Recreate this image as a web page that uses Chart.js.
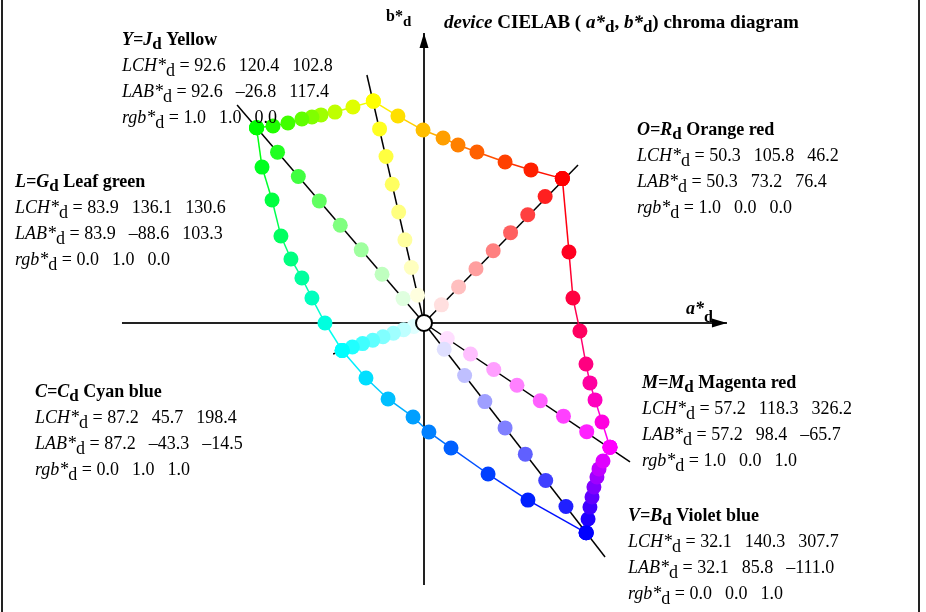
<!DOCTYPE html>
<html>
<head>
<meta charset="utf-8">
<script src="https://cdn.jsdelivr.net/npm/chart.js@4"></script>
<style>
  html, body { margin: 0; padding: 0; background: #fff; }
</style>
</head>
<body>
<canvas id="cchart" width="926" height="612"></canvas>
<script>
// hue order: O, Y, L, C, V, M
const hueCodes = [['O', 'R'], ['Y', 'J'], ['L', 'G'], ['C', 'C'], ['V', 'B'], ['M', 'M']];
const hueNames = ['Orange red', 'Yellow', 'Leaf green', 'Cyan blue', 'Violet blue', 'Magenta red'];
const lchValues = [[50.3, 105.8, 46.2], [92.6, 120.4, 102.8], [83.9, 136.1, 130.6], [87.2, 45.7, 198.4], [32.1, 140.3, 307.7], [57.2, 118.3, 326.2]];
const labValues = [[50.3, 73.2, 76.4], [92.6, -26.8, 117.4], [83.9, -88.6, 103.3], [87.2, -43.3, -14.5], [32.1, 85.8, -111.0], [57.2, 98.4, -65.7]];
const rgbValues = [[1, 0, 0], [1, 1, 0], [0, 1, 0], [0, 1, 1], [0, 0, 1], [1, 0, 1]];

// white -> primary steps along each grey ray (a*, b*)
const rayA = [
  [9.2, 18.3, 27.5, 36.6, 45.8, 54.9, 64.1, 73.2],
  [-3.4, -6.7, -10.1, -13.4, -16.8, -20.1, -23.5, -26.8],
  [-11.1, -22.2, -33.2, -44.3, -55.4, -66.5, -77.5, -88.6],
  [-5.4, -10.8, -16.2, -21.7, -27.1, -32.5, -37.9, -43.3],
  [10.7, 21.5, 32.2, 42.9, 53.6, 64.4, 75.1, 85.8],
  [12.3, 24.6, 36.9, 49.2, 61.5, 73.8, 86.1, 98.4]
];
const rayB = [
  [9.6, 19.1, 28.7, 38.2, 47.8, 57.3, 66.9, 76.4],
  [14.7, 29.4, 44.0, 58.7, 73.4, 88.1, 102.7, 117.4],
  [12.9, 25.8, 38.7, 51.7, 64.6, 77.5, 90.4, 103.3],
  [-1.8, -3.6, -5.4, -7.3, -9.1, -10.9, -12.7, -14.5],
  [-13.9, -27.8, -41.6, -55.5, -69.4, -83.3, -97.1, -111.0],
  [-8.2, -16.4, -24.6, -32.9, -41.1, -49.3, -57.5, -65.7]
];
const rayEndA = [81.5, -30.2, -98.9, -48.1, 95.8, 109.0];
const rayEndB = [83.6, 131.2, 115.3, -16.4, -123.8, -73.5];

// inner steps on the hue circle edges O-Y, Y-L, L-C, C-V, V-M, M-O
const edgeA = [
  [56.6, 42.9, 28.0, 18.0, 10.1, -0.5, -13.8],
  [-37.6, -47.1, -54.5, -59.3, -64.6, -72.0, -79.9],
  [-85.7, -80.4, -75.7, -70.4, -64.6, -59.3, -52.4],
  [-30.7, -19.0, -5.8, 2.6, 14.3, 33.9, 55.0],
  [86.8, 87.8, 88.9, 89.9, 91.5, 92.6, 94.7],
  [94.2, 90.5, 87.8, 85.7, 82.5, 78.8, 76.7]
];
const edgeB = [
  [81.0, 85.2, 90.5, 94.2, 97.9, 102.1, 109.5],
  [114.3, 111.6, 110.1, 109.0, 107.9, 105.8, 104.2],
  [82.5, 65.1, 46.0, 33.9, 23.8, 13.2, 0.0],
  [-29.1, -40.2, -49.7, -57.7, -66.1, -79.9, -93.7],
  [-103.7, -97.4, -92.1, -86.8, -81.5, -77.2, -73.0],
  [-52.4, -40.7, -31.7, -21.7, -4.2, 13.2, 37.6]
];

const axisX = [-159.8, 160.3];
const axisY = [-138.6, 153.4];

const SERIF = '"Liberation Serif", "Times New Roman", serif';

function rgbCss(c) {
  return 'rgb(' + c.map(v => Math.round(v * 255)).join(',') + ')';
}

function mix(c0, c1, t) {
  return c0.map((v, i) => v + (c1[i] - v) * t);
}

function fmt(v) {
  return v.toFixed(1).replace('-', '\u2013');
}

let datasets = [];

// axes
datasets.push({
  data: [{ x: axisX[0], y: 0 }, { x: axisX[1], y: 0 }],
  showLine: true, borderColor: '#222', borderWidth: 2, pointRadius: 0, order: 20
});
datasets.push({
  data: [{ x: 0, y: axisY[0] }, { x: 0, y: axisY[1] }],
  showLine: true, borderColor: '#222', borderWidth: 2, pointRadius: 0, order: 20
});

// black rays from the white point
for (let h = 0; h < 6; h++) {
  datasets.push({
    data: [{ x: 0, y: 0 }, { x: rayEndA[h], y: rayEndB[h] }],
    showLine: true, borderColor: '#000', borderWidth: 1.5, pointRadius: 0, order: 15
  });
}

// edge lines between neighbouring primaries
for (let h = 0; h < 6; h++) {
  let n = (h + 1) % 6;
  let pts = [{ x: labValues[h][1], y: labValues[h][2] }];
  for (let k = 0; k < edgeA[h].length; k++) pts.push({ x: edgeA[h][k], y: edgeB[h][k] });
  pts.push({ x: labValues[n][1], y: labValues[n][2] });
  let cols = pts.map((p, k) => mix(rgbValues[h], rgbValues[n], k / (pts.length - 1)));
  datasets.push({
    data: pts,
    showLine: true,
    borderWidth: 1.5,
    segment: {
      borderColor: ctx => rgbCss(mix(cols[ctx.p0DataIndex], cols[ctx.p1DataIndex], 0.5))
    },
    pointRadius: 0,
    order: 12
  });
  datasets.push({
    data: pts,
    showLine: false,
    pointRadius: 7.5,
    pointBorderWidth: 0,
    pointBackgroundColor: cols.map(rgbCss),
    order: 6
  });
}

// white -> primary points on the rays
for (let h = 0; h < 6; h++) {
  let pts = rayA[h].map((a, k) => ({ x: a, y: rayB[h][k] }));
  datasets.push({
    data: pts,
    showLine: false,
    pointRadius: 7.5,
    pointBorderWidth: 0,
    pointBackgroundColor: pts.map((p, k) => rgbCss(mix([1, 1, 1], rgbValues[h], (k + 1) / pts.length))),
    order: 8
  });
}

// white point
datasets.push({
  data: [{ x: 0, y: 0 }],
  pointRadius: 8, pointBorderWidth: 2, pointBorderColor: '#000', pointBackgroundColor: '#fff', order: 0
});

datasets.forEach(d => { d.clip = false; });

function drawRuns(ctx, x, y, runs) {
  for (const r of runs) {
    ctx.font = (r.i ? 'italic ' : '') + (r.b ? 'bold ' : '') + (r.size || 18) + 'px ' + SERIF;
    ctx.fillText(r.t, x, y + (r.dy || 0));
    x += ctx.measureText(r.t).width + (r.gap || 0);
  }
}

// label block corners: x, baseline of first row
const blockPos = [[637, 135], [122, 45], [15, 187], [35, 397], [628, 521], [642, 388]];
const rowGap = 26;
const numGap = 13;

const overlay = {
  id: 'overlay',
  beforeDraw(chart) {
    const ctx = chart.ctx;
    ctx.save();
    ctx.fillStyle = '#fff';
    ctx.fillRect(0, 0, chart.width, chart.height);
    ctx.strokeStyle = '#222';
    ctx.lineWidth = 2;
    ctx.beginPath();
    ctx.moveTo(2, 0); ctx.lineTo(2, chart.height);
    ctx.moveTo(919, 0); ctx.lineTo(919, chart.height);
    ctx.stroke();
    ctx.restore();
  },
  afterDatasetsDraw(chart) {
    const ctx = chart.ctx;
    const xs = chart.scales.x, ys = chart.scales.y;
    ctx.save();
    ctx.fillStyle = '#000';
    let tx = xs.getPixelForValue(axisX[1]), ty = ys.getPixelForValue(0);
    ctx.beginPath();
    ctx.moveTo(tx, ty); ctx.lineTo(tx - 15, ty - 4.5); ctx.lineTo(tx - 15, ty + 4.5);
    ctx.closePath(); ctx.fill();
    tx = xs.getPixelForValue(0); ty = ys.getPixelForValue(axisY[1]);
    ctx.beginPath();
    ctx.moveTo(tx, ty); ctx.lineTo(tx - 4.5, ty + 15); ctx.lineTo(tx + 4.5, ty + 15);
    ctx.closePath(); ctx.fill();
    ctx.restore();
  },
  afterDraw(chart) {
    const ctx = chart.ctx;
    ctx.save();
    ctx.fillStyle = '#000';
    ctx.textBaseline = 'alphabetic';

    drawRuns(ctx, 386, 21, [
      { t: 'b*', b: true, size: 16 },
      { t: 'd', b: true, size: 15, dy: 5 }
    ]);
    drawRuns(ctx, 444, 28, [
      { t: 'device', b: true, i: true, size: 19 },
      { t: ' CIELAB ( ', b: true, size: 19 },
      { t: 'a*', b: true, i: true, size: 19 },
      { t: 'd', b: true, size: 17, dy: 4 },
      { t: ', ', b: true, size: 19 },
      { t: 'b*', b: true, i: true, size: 19 },
      { t: 'd', b: true, size: 17, dy: 4 },
      { t: ') chroma diagram', b: true, size: 19 }
    ]);
    drawRuns(ctx, 686, 314, [
      { t: 'a*', b: true, i: true },
      { t: 'd', b: true, size: 16, dy: 8 }
    ]);

    for (let h = 0; h < 6; h++) {
      let [x, y] = blockPos[h];
      drawRuns(ctx, x, y, [
        { t: hueCodes[h][0] + '=' + hueCodes[h][1], b: true, i: true },
        { t: 'd', b: true, size: 17, dy: 4 },
        { t: ' ' + hueNames[h], b: true }
      ]);
      const rows = [
        ['LCH*', lchValues[h].map(fmt)],
        ['LAB*', labValues[h].map(fmt)],
        ['rgb*', rgbValues[h].map(fmt)]
      ];
      rows.forEach((row, r) => {
        drawRuns(ctx, x, y + rowGap * (r + 1), [
          { t: row[0], i: true },
          { t: 'd', dy: 5 },
          { t: ' = ' + row[1][0], gap: numGap },
          { t: row[1][1], gap: numGap },
          { t: row[1][2] }
        ]);
      });
    }
    ctx.restore();
  }
};

const s = 1.89;
new Chart(document.getElementById('cchart').getContext('2d'), {
  type: 'scatter',
  data: { datasets: datasets },
  options: {
    responsive: false,
    animation: false,
    layout: { padding: 0, autoPadding: false },
    plugins: { legend: { display: false }, tooltip: { enabled: false } },
    scales: {
      x: { type: 'linear', display: false, min: -424 / s, max: 502 / s },
      y: { type: 'linear', display: false, min: -289 / s, max: 323 / s }
    }
  },
  plugins: [overlay]
});
</script>
</body>
</html>
